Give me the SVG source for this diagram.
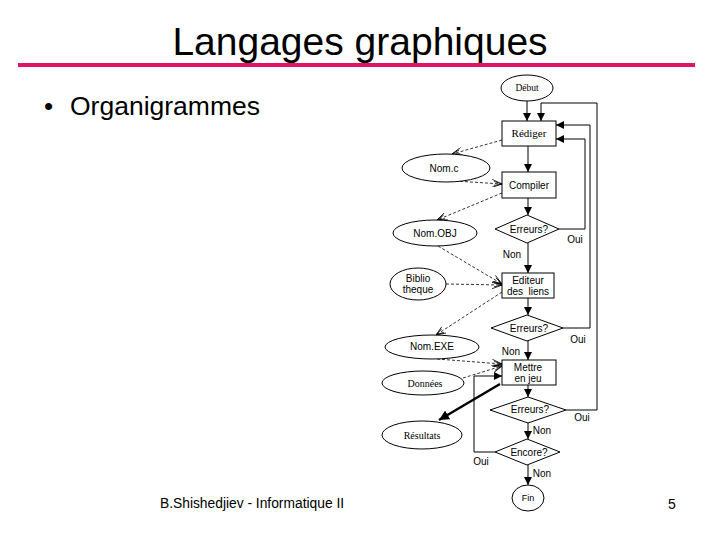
<svg xmlns="http://www.w3.org/2000/svg" width="720" height="540" viewBox="0 0 720 540">
<style>
.sh{fill:#fff;stroke:#000;stroke-width:1}
.ln{fill:none;stroke:#000;stroke-width:1}
.ds{fill:none;stroke:#000;stroke-width:0.8;stroke-dasharray:3,2}
.sans{font-family:"Liberation Sans",Arial,sans-serif;fill:#000}
.serif{font-family:"Liberation Serif","Times New Roman",serif;fill:#000}
.lb{font-size:10px;text-anchor:middle}
</style>
<defs>
<marker id="fa" viewBox="0 0 8 8" refX="8" refY="4" markerWidth="8" markerHeight="8" markerUnits="userSpaceOnUse" orient="auto">
<path d="M0,0 L8,4 L0,8 z" fill="#000"/>
</marker>
<marker id="oa" viewBox="0 0 10 8" refX="10" refY="4" markerWidth="10" markerHeight="8" markerUnits="userSpaceOnUse" orient="auto">
<path d="M0,0 L10,4 L0,8 M2,2 L10,4 L2,6" fill="none" stroke="#000" stroke-width="0.8"/>
</marker>
<marker id="ta" viewBox="0 0 10 10" refX="10" refY="5" markerWidth="10" markerHeight="10" markerUnits="userSpaceOnUse" orient="auto">
<path d="M0,0 L10,5 L0,10 z" fill="#000"/>
</marker>
</defs>
<rect width="720" height="540" fill="#fff"/>
<g id="header">
<text x="360" y="55" class="sans" font-size="39" text-anchor="middle">Langages graphiques</text>
<line x1="18" y1="65" x2="695" y2="65" stroke="#E01464" stroke-width="4"/>
<text x="44" y="115" class="sans" font-size="26">•</text>
<text x="70" y="115" class="sans" font-size="26.5">Organigrammes</text>
</g>
<g id="connectors">
<line x1="527" y1="101" x2="527" y2="121" class="ln" marker-end="url(#fa)"/>
<polyline points="566,410 597,410 597,103 541,103 541,121" class="ln" marker-end="url(#fa)"/>
<polyline points="563,328 590,328 590,125 556,125" class="ln" marker-end="url(#fa)"/>
<polyline points="559,229 585,229 585,139 556,139" class="ln" marker-end="url(#fa)"/>
<line x1="528" y1="146" x2="528" y2="172" class="ln" marker-end="url(#fa)"/>
<line x1="502" y1="140" x2="452" y2="154" class="ds" marker-end="url(#oa)"/>
<line x1="455" y1="181" x2="502" y2="184" class="ds" marker-end="url(#oa)"/>
<line x1="502" y1="193" x2="437" y2="220" class="ds" marker-end="url(#oa)"/>
<line x1="528" y1="198" x2="528" y2="215" class="ln" marker-end="url(#fa)"/>
<line x1="528" y1="243" x2="528" y2="273" class="ln" marker-end="url(#fa)"/>
<line x1="438" y1="246" x2="502" y2="284" class="ds" marker-end="url(#oa)"/>
<line x1="446" y1="284" x2="502" y2="285" class="ds" marker-end="url(#oa)"/>
<line x1="528" y1="298" x2="528" y2="315" class="ln" marker-end="url(#fa)"/>
<line x1="502" y1="292" x2="436" y2="335" class="ds" marker-end="url(#oa)"/>
<line x1="528" y1="341" x2="528" y2="360" class="ln" marker-end="url(#fa)"/>
<line x1="437" y1="359" x2="502" y2="364" class="ds" marker-end="url(#oa)"/>
<line x1="463" y1="378" x2="502" y2="366" class="ds" marker-end="url(#oa)"/>
<polyline points="495,452 474,452 474,376 502,376" class="ln" marker-end="url(#fa)"/>
<line x1="500" y1="384" x2="439" y2="420" stroke="#000" stroke-width="2.5" marker-end="url(#ta)"/>
<line x1="528" y1="385" x2="528" y2="397" class="ln" marker-end="url(#fa)"/>
<line x1="528" y1="423" x2="528" y2="439" class="ln" marker-end="url(#fa)"/>
<line x1="528" y1="465" x2="528" y2="485" class="ln" marker-end="url(#fa)"/>
</g>
<g id="debut"><ellipse cx="527" cy="88" rx="26" ry="13" class="sh"/><text x="527" y="91" class="serif" font-size="9.5" text-anchor="middle">Début</text></g>
<g id="rediger"><rect x="502" y="121" width="54" height="25" class="sh"/><text x="529" y="137" class="serif" font-size="11" text-anchor="middle">Rédiger</text></g>
<g id="nomc"><ellipse cx="446" cy="168" rx="44" ry="14" class="sh"/><text x="444" y="172" class="sans lb">Nom.c</text></g>
<g id="compiler"><rect x="502" y="172" width="54" height="26" class="sh"/><text x="529" y="189" class="sans lb">Compiler</text></g>
<g id="erreurs1"><polygon points="495,229 527,215 559,229 527,243" class="sh"/><text x="529" y="233" class="sans lb">Erreurs?</text></g>
<g id="labels1"><text x="575" y="243" class="sans lb">Oui</text><text x="512" y="258" class="sans lb">Non</text></g>
<g id="nomobj"><ellipse cx="435" cy="233" rx="42" ry="13" class="sh"/><text x="435" y="237" class="sans lb">Nom.OBJ</text></g>
<g id="biblio"><ellipse cx="418" cy="284" rx="28" ry="16" class="sh"/><text x="418" y="282" class="sans lb">Biblio</text><text x="418" y="293" class="sans lb">theque</text></g>
<g id="editeur"><rect x="502" y="273" width="52" height="25" class="sh"/><text x="528" y="284" class="sans lb">Editeur</text><text x="528" y="295" class="sans lb" xml:space="preserve">des  liens</text></g>
<g id="erreurs2"><polygon points="491,328 527,315 563,328 527,341" class="sh"/><text x="529" y="332" class="sans lb">Erreurs?</text></g>
<g id="labels2"><text x="578" y="343" class="sans lb">Oui</text><text x="511" y="355" class="sans lb">Non</text></g>
<g id="nomexe"><ellipse cx="432" cy="347" rx="47" ry="12" class="sh"/><text x="432" y="350" class="sans lb">Nom.EXE</text></g>
<g id="mettre"><rect x="502" y="360" width="54" height="25" class="sh"/><text x="528" y="371" class="sans lb">Mettre</text><text x="528" y="382" class="sans lb">en jeu</text></g>
<g id="donnees"><ellipse cx="423" cy="383" rx="41" ry="12" class="sh"/><text x="425" y="387" class="serif lb">Données</text></g>
<g id="erreurs3"><polygon points="490,410 528,397 566,410 528,423" class="sh"/><text x="530" y="413" class="sans lb">Erreurs?</text></g>
<g id="labels3"><text x="582" y="421" class="sans lb">Oui</text><text x="542" y="434" class="sans lb">Non</text></g>
<g id="resultats"><ellipse cx="422" cy="435" rx="40" ry="14" class="sh"/><text x="422" y="439" class="serif lb">Résultats</text></g>
<g id="encore"><polygon points="495,452 527,439 560,452 527,465" class="sh"/><text x="529" y="456" class="sans lb">Encore?</text></g>
<g id="labels4"><text x="481" y="465" class="sans lb">Oui</text><text x="542" y="477" class="sans lb">Non</text></g>
<g id="fin"><ellipse cx="528" cy="498" rx="16" ry="13" class="sh"/><text x="528" y="501" class="sans" font-size="9" text-anchor="middle">Fin</text></g>
<g id="footer">
<text x="160" y="508" class="sans" font-size="13.8">B.Shishedjiev - Informatique II</text>
<text x="672" y="509" class="sans" font-size="14" text-anchor="middle">5</text>
</g>
</svg>
